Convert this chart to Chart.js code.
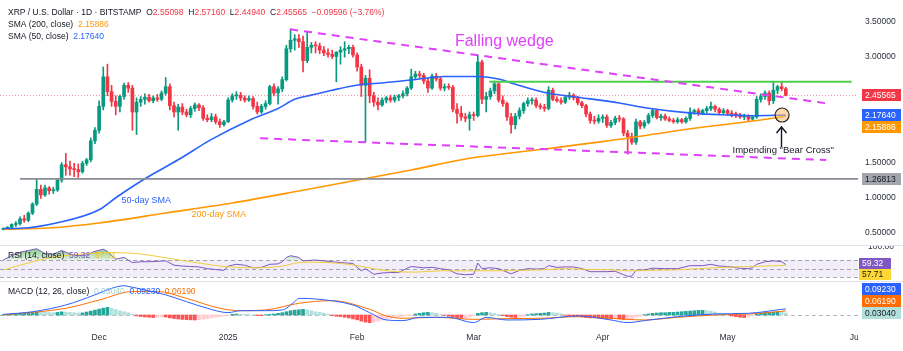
<!DOCTYPE html>
<html>
<head>
<meta charset="utf-8">
<script src="https://cdn.jsdelivr.net/npm/chart.js@4.4.1/dist/chart.umd.min.js"></script>
<style>
html,body{margin:0;padding:0;background:#ffffff;}
#wrap{position:relative;width:903px;height:351px;overflow:hidden;background:#ffffff;}
#wrap canvas{position:absolute;left:0;display:block;}
</style>
</head>
<body>
<div id="wrap">
  <canvas id="cMain" width="903" height="245" style="top:0px;width:903px;height:245px"></canvas>
  <canvas id="cRsi" width="903" height="36" style="top:245px;width:903px;height:36px"></canvas>
  <canvas id="cMacd" width="903" height="70" style="top:281px;width:903px;height:70px"></canvas>
</div>
<script>
// ================= DATA (day 0 = 1 Dec 2024) =================
const firstDay = -23; // 8 Nov 2024
const opens = [
0.55,0.56,0.58,0.62,0.63,0.70,0.68,0.78,0.91,1.12,
1.04,1.14,1.10,1.11,1.25,1.47,1.44,1.41,1.40,1.37,
1.49,1.54,1.81,1.96,2.30,2.72,2.51,2.37,2.30,2.44,
2.60,2.56,2.22,2.36,2.40,2.43,2.38,2.42,2.40,2.49,
2.58,2.31,2.22,2.29,2.22,2.18,2.27,2.32,2.28,2.13,
2.11,2.15,2.08,2.04,2.08,2.39,2.45,2.46,2.42,2.39,
2.41,2.30,2.22,2.30,2.34,2.58,2.49,2.55,2.68,3.12,
3.24,3.26,3.22,2.95,3.14,3.17,3.16,3.10,3.06,3.04,
3.01,3.07,3.10,3.12,3.14,3.03,2.86,2.60,2.70,2.45,
2.36,2.32,2.39,2.42,2.39,2.43,2.45,2.48,2.56,2.72,
2.76,2.74,2.66,2.56,2.73,2.69,2.56,2.58,2.57,2.26,
2.20,2.15,2.13,2.18,2.17,2.93,2.40,2.44,2.52,2.62,
2.39,2.34,2.15,2.04,2.16,2.24,2.34,2.38,2.39,2.31,
2.29,2.27,2.53,2.40,2.38,2.36,2.43,2.46,2.42,2.35,
2.31,2.19,2.10,2.09,2.13,2.15,2.03,2.07,2.13,2.12,
1.92,1.87,1.79,2.08,2.02,2.07,2.17,2.24,2.14,2.16,
2.12,2.10,2.08,2.11,2.08,2.13,2.22,2.24,2.20,2.24,
2.27,2.30,2.26,2.21,2.24,2.20,2.19,2.18,2.15,2.17,
2.12,2.15,2.40,2.44,2.49,2.38,2.53,2.58,2.55098];
const highs = [
0.57,0.59,0.63,0.66,0.73,0.75,0.80,0.93,1.27,1.18,
1.18,1.16,1.15,1.27,1.50,1.63,1.52,1.49,1.48,1.52,
1.56,1.85,2.00,2.38,2.86,2.90,2.60,2.45,2.46,2.63,
2.64,2.60,2.42,2.44,2.48,2.47,2.45,2.47,2.52,2.71,
2.62,2.36,2.33,2.34,2.26,2.30,2.35,2.34,2.31,2.18,
2.20,2.19,2.12,2.10,2.42,2.48,2.51,2.50,2.45,2.45,
2.44,2.36,2.33,2.38,2.60,2.62,2.58,2.72,3.17,3.40,
3.32,3.32,3.30,3.36,3.21,3.22,3.20,3.15,3.12,3.10,
3.08,3.15,3.22,3.17,3.17,3.06,2.90,2.74,2.82,2.50,
2.42,2.42,2.44,2.46,2.46,2.47,2.52,2.58,2.83,2.80,
2.80,2.77,2.70,2.76,2.77,2.72,2.62,2.62,2.60,2.34,
2.30,2.20,2.22,2.22,3.03,2.96,2.50,2.56,2.66,2.65,
2.45,2.36,2.20,2.20,2.28,2.36,2.42,2.42,2.42,2.34,
2.33,2.58,2.56,2.44,2.42,2.46,2.50,2.48,2.44,2.37,
2.33,2.22,2.16,2.18,2.18,2.18,2.10,2.16,2.17,2.14,
1.96,1.92,2.12,2.10,2.10,2.20,2.27,2.26,2.19,2.19,
2.15,2.13,2.14,2.13,2.15,2.28,2.26,2.27,2.26,2.30,
2.36,2.32,2.28,2.27,2.26,2.24,2.22,2.20,2.19,2.18,
2.17,2.44,2.48,2.52,2.52,2.65,2.60,2.65,2.5716];
const lows = [
0.54,0.55,0.57,0.59,0.61,0.65,0.66,0.76,0.89,0.99,
1.02,1.05,1.06,1.09,1.22,1.32,1.32,1.30,1.29,1.35,
1.46,1.51,1.77,1.92,2.25,2.45,2.30,2.18,2.22,2.40,
2.50,1.96,1.90,2.30,2.33,2.36,2.35,2.37,2.38,2.46,
2.25,2.15,1.96,2.18,2.15,2.14,2.23,2.24,2.10,2.08,
2.08,2.05,2.00,2.02,2.07,2.36,2.40,2.38,2.36,2.37,
2.26,2.19,2.20,2.26,2.32,2.45,2.33,2.51,2.66,3.07,
3.10,3.14,2.79,2.92,3.06,3.06,3.05,3.02,3.00,2.98,
2.65,2.90,3.00,3.05,3.00,2.80,2.44,1.80,2.35,2.30,
2.25,2.30,2.35,2.36,2.36,2.38,2.42,2.45,2.54,2.68,
2.70,2.62,2.50,2.54,2.66,2.53,2.52,2.54,2.22,2.06,
2.10,2.08,1.96,2.10,2.15,2.34,2.22,2.40,2.48,2.36,
2.30,2.10,1.92,1.98,2.12,2.20,2.30,2.33,2.28,2.26,
2.23,2.25,2.38,2.36,2.33,2.34,2.40,2.39,2.32,2.28,
2.15,2.06,2.05,2.06,2.07,2.00,2.00,2.04,2.08,1.88,
1.62,1.76,1.76,1.98,1.99,2.05,2.14,2.12,2.10,2.10,
2.08,2.06,2.06,2.06,2.06,2.10,2.19,2.17,2.18,2.21,
2.24,2.22,2.18,2.19,2.17,2.15,2.14,2.13,2.11,2.09,
2.10,2.13,2.36,2.40,2.32,2.34,2.48,2.52,2.4494];
const closes = [
0.56,0.58,0.62,0.63,0.70,0.68,0.78,0.91,1.12,1.04,
1.14,1.10,1.11,1.25,1.47,1.44,1.41,1.40,1.37,1.49,
1.54,1.81,1.96,2.30,2.72,2.51,2.37,2.30,2.44,2.60,
2.56,2.22,2.36,2.40,2.43,2.38,2.42,2.40,2.49,2.58,
2.31,2.22,2.29,2.22,2.18,2.27,2.32,2.28,2.13,2.11,
2.15,2.08,2.04,2.08,2.39,2.45,2.46,2.42,2.39,2.41,
2.30,2.22,2.30,2.34,2.58,2.49,2.55,2.68,3.12,3.24,
3.26,3.22,2.95,3.14,3.17,3.16,3.10,3.06,3.04,3.01,
3.07,3.10,3.12,3.14,3.03,2.86,2.60,2.70,2.45,2.36,
2.32,2.39,2.42,2.39,2.43,2.45,2.48,2.56,2.72,2.76,
2.74,2.66,2.56,2.73,2.69,2.56,2.58,2.57,2.26,2.20,
2.15,2.13,2.18,2.17,2.93,2.40,2.44,2.52,2.62,2.39,
2.34,2.15,2.04,2.16,2.24,2.34,2.38,2.39,2.31,2.29,
2.27,2.53,2.40,2.38,2.36,2.43,2.46,2.42,2.35,2.31,
2.19,2.10,2.09,2.13,2.15,2.03,2.07,2.13,2.12,1.92,
1.87,1.79,2.08,2.02,2.07,2.17,2.24,2.14,2.16,2.12,
2.10,2.08,2.11,2.08,2.13,2.22,2.24,2.20,2.24,2.27,
2.30,2.26,2.21,2.24,2.20,2.19,2.18,2.15,2.17,2.12,
2.15,2.40,2.44,2.49,2.38,2.53,2.58,2.5516,2.45565];
const prevClose = 2.55161;

const sma50Days = [-23,-19,-10,0,4,11,19,27,36,43,47,51,56,63,68,75,83,90,96,99,108,115,125,132,143,151,157,165];
const sma50Vals = [0.563,0.566,0.645,0.83,1.0,1.27,1.54,1.83,2.10,2.27,2.40,2.46,2.53,2.61,2.633,2.675,2.725,2.725,2.69,2.633,2.486,2.43,2.348,2.273,2.20,2.177,2.167,2.1764];
const sma200Days = [-23,-12,0,16,32,48,75,89,105,121,132,143,159,165];
const sma200Vals = [0.552,0.57,0.641,0.783,0.926,1.096,1.395,1.561,1.68,1.798,1.893,1.988,2.106,2.15886];

const wedgeUpperDays = [45.9,174.7], wedgeUpperVals = [3.396,2.344];
const wedgeLowerDays = [38.7,174.7], wedgeLowerVals = [1.846,1.537];
const resistDays = [93.75,180.8], resistLevel = 2.651;
const supportStartDay = -19, supportLevel = 1.26813;

const rsiDays = [-23,-21,-19,-17,-15,-13,-11,-10,-9,-7,-5,-3,-1,1,2,4,6,8,10,12,14,16,18,20,22,24,26,28,30,31,33,35,37,39,41,43,44,45,46,48,49,52,58,61,63,64,66,68,70,72,74,75,78,80,82,84,86,88,90,91,92,94,96,98,99,101,103,105,107,108,110,112,114,116,118,120,122,124,126,127,128,129,131,133,136,139,142,145,147,149,151,154,156,157,158,160,162,163,164,165];
const rsiVals = [70,80,88,92,96,85,83,88,92,84,80,82,90,95,90,72,76,64,66,66,67,68,58,56,55,54,50,48,46,56,60,58,52,53,60,61,66,76,80,76,68,70,64,62,45,50,37,40,41,41,51,55,52,53,50,47,38,36,37,63,50,52,50,42,38,46,50,49,50,57,53,54,54,50,43,43,43,44,36,32,33,46,47,51,50,50,57,57,60,56,55,51,50,52,60,66,68,67,66,59.32];
const rsiMaDays = [-23,-19,-12,-4,4,10,16,22,30,38,44,48,52,58,62,66,70,76,82,88,94,100,106,112,118,124,127,132,138,144,150,156,160,165];
const rsiMaVals = [47,58,75,84,87,84,75,66,55,52,56,64,65,62,57,50,44,42,45,45,45,46,47,50,48,47,45,46,47,50,53,55,56,57.71];
const rsiLevels = [70,50,30];

const macdDays = [-23,-16,-8,-1,3,6,7,11,16,21,26,31,34,40,44,47,48,52,61,65,69,73,77,84,90,93,98,106,115,123,127,131,139,148,156,160,164,165];
const macdVals = [0.01,0.05,0.154,0.31,0.41,0.45,0.44,0.385,0.31,0.205,0.103,0.036,0.066,0.066,0.077,0.205,0.256,0.246,0.154,0.036,-0.077,-0.087,-0.036,-0.036,-0.118,-0.036,-0.077,-0.067,-0.015,-0.077,-0.118,-0.087,-0.026,0.015,0.026,0.051,0.087,0.0923];
const signalDays = [-23,-8,0,8,14,21,29,34,40,48,56,65,69,73,81,90,98,106,115,123,131,139,148,156,165];
const signalVals = [0,0.103,0.23,0.36,0.36,0.256,0.103,0.066,0.077,0.18,0.22,0.087,-0.015,-0.051,-0.036,-0.067,-0.056,-0.051,-0.026,-0.051,-0.077,-0.036,0,0.015,0.0619];
const histVals = [
0.005,0.008,0.012,0.016,0.022,0.025,0.03,
0.036,0.045,0.042,0.04,0.038,
0.035,0.04,0.048,0.044,0.04,0.035,0.03,0.032,
0.045,0.06,0.075,0.09,0.105,0.118,
0.1,0.085,0.065,0.05,0.035,
0.01,
-0.015,-0.025,-0.03,-0.035,-0.04,
-0.035,-0.03,-0.032,-0.045,
-0.055,-0.062,-0.068,-0.072,-0.075,-0.077,-0.072,
-0.065,-0.055,-0.045,-0.035,-0.025,-0.015,-0.005,
0.01,0.015,0.012,0.01,0.008,0.004,
-0.008,-0.01,
0.005,0.01,0.015,0.025,0.035,0.05,0.065,0.075,
0.08,0.087,0.08,
0.065,0.05,0.04,0.03,0.015,
-0.01,-0.02,-0.025,-0.035,-0.045,
-0.06,-0.075,-0.095,-0.11,-0.118,-0.11,
-0.095,-0.08,-0.065,-0.05,-0.04,-0.03,-0.02,
-0.01,-0.005,
0.015,0.025,0.035,0.04,0.035,0.025,
0.01,-0.005,
-0.02,-0.03,-0.04,-0.05,-0.045,-0.035,
-0.01,0.025,0.035,0.04,0.035,0.025,
0.01,-0.01,
-0.025,-0.035,-0.04,-0.03,-0.02,
0.005,0.015,0.02,0.025,0.03,0.04,0.035,0.03,0.02,
-0.005,-0.015,-0.02,-0.025,-0.03,-0.04,-0.045,-0.045,
-0.05,-0.055,-0.055,-0.06,-0.058,-0.062,-0.07,-0.068,-0.055,
-0.035,-0.02,
0.005,0.015,0.025,0.03,0.035,0.035,0.04,0.04,0.045,
0.05,0.055,0.06,0.065,0.07,0.072,0.068,0.06,
0.045,0.03,0.015,0.005,
-0.015,-0.025,-0.035,-0.04,-0.03,
-0.015,0.01,0.025,0.035,0.04,0.043,0.045,0.042,
0.0304];

const priceTicks = [0.5,1.0,1.5,3.0,3.5];
const rsiTicks = [100];
const tickDays = [0,31,62,90,121,151,182];
const tickLabels = ['Dec','2025','Feb','Mar','Apr','May','Jun'];

// ================= STYLE / LAYOUT =================
const FONT = '"Liberation Sans", Arial, sans-serif';
const TXT = '#131722';
const UP = '#089981', DOWN = '#f23645';
const MAGENTA = '#e040fb', GREEN = '#4cd04c';
const X_MIN = -23.81, X_MAX = 182.34;
const Y_MIN = 0.328, Y_MAX = 3.813;
const R_MIN = 21.45, R_MAX = 104.7;
const M_MIN = -0.185, M_MAX = 0.523;
const AXIS_W = 45;

const last = closes.length - 1;
const days = opens.map((_, i) => firstDay + i);
const candleCol = opens.map((o, i) => closes[i] >= o ? UP : DOWN);
const pts = (xs, ys) => xs.map((x, i) => ({x: x, y: ys[i]}));
const histCol = histVals.map((h, i) => {
  const p = i > 0 ? histVals[i - 1] : 0;
  if (h >= 0) return h >= p ? '#26a69a' : '#b2dfdb';
  return h <= p ? '#ff5252' : '#ffcdd2';
});

function fixY(s){ s.width = AXIS_W; s.paddingTop = 0; s.paddingBottom = 0; }
const baseOpts = {
  responsive:false, maintainAspectRatio:false, animation:false, devicePixelRatio:1,
  layout:{padding:0},
  plugins:{legend:{display:false}, tooltip:{enabled:false}}
};
function xHidden(){ return {type:'linear', min:X_MIN, max:X_MAX, offset:false, display:false, grid:{display:false}}; }

function drawRuns(ctx, x, y, list, font){
  ctx.font = font; ctx.textBaseline = 'middle'; ctx.textAlign = 'left';
  for (const r of list){ ctx.fillStyle = r[1]; ctx.fillText(r[0], x, y); x += ctx.measureText(r[0]).width; }
}
function layoutBoxes(items, h, hi, dir){
  const arr = items.slice().sort((a, b) => a.y - b.y);
  if (dir === 'down'){
    for (let i = 1; i < arr.length; i++) arr[i].y = Math.max(arr[i].y, arr[i-1].y + h);
    if (hi !== null && arr[arr.length-1].y > hi){
      arr[arr.length-1].y = hi;
      for (let i = arr.length - 2; i >= 0; i--) arr[i].y = Math.min(arr[i].y, arr[i+1].y - h);
    }
  } else {
    for (let i = arr.length - 2; i >= 0; i--) arr[i].y = Math.min(arr[i].y, arr[i+1].y - h);
  }
  return arr;
}
function drawBoxes(ctx, arr, left, width, bh){
  ctx.font = '8.5px ' + FONT; ctx.textBaseline = 'middle'; ctx.textAlign = 'left';
  for (const b of arr){
    ctx.fillStyle = b.bg; ctx.fillRect(left, Math.round(b.y - bh/2), width, bh);
    ctx.fillStyle = b.fg; ctx.fillText(b.text, left + 3, b.y + 0.5);
  }
}
const MINUS = '\u2212';
const fmtSigned = (v, n) => (v < 0 ? MINUS : '+') + Math.abs(v).toFixed(n);

// ================= MAIN PRICE PANE =================
const ann = {
  wedge: {d:85.5, p:3.219, text:'Falling wedge'},
  sma50: {d:5.4, p:0.958, text:'50-day SMA'},
  sma200: {d:22.2, p:0.755, text:'200-day SMA'},
  bear: {d:152.2, p:1.68, text:'Impending "Bear Cross"'},
  circle: {d:164.1, p:2.177, r:7},
  arrow: {d:163.9, p0:1.722, p1:2.007}
};

const mainOverlay = {
  id:'mainOverlay',
  afterDraw(chart){
    const ctx = chart.ctx, x = chart.scales.x, y = chart.scales.y;
    ctx.save();
    ctx.textBaseline = 'middle'; ctx.textAlign = 'left';
    ctx.font = '16px ' + FONT; ctx.fillStyle = MAGENTA;
    ctx.fillText(ann.wedge.text, x.getPixelForValue(ann.wedge.d), y.getPixelForValue(ann.wedge.p));
    ctx.font = '9px ' + FONT; ctx.fillStyle = '#2962ff';
    ctx.fillText(ann.sma50.text, x.getPixelForValue(ann.sma50.d), y.getPixelForValue(ann.sma50.p));
    ctx.fillStyle = '#ff9800';
    ctx.fillText(ann.sma200.text, x.getPixelForValue(ann.sma200.d), y.getPixelForValue(ann.sma200.p));
    ctx.font = '9.5px ' + FONT; ctx.fillStyle = TXT;
    ctx.fillText(ann.bear.text, x.getPixelForValue(ann.bear.d), y.getPixelForValue(ann.bear.p));
    const cx = x.getPixelForValue(ann.circle.d), cy = y.getPixelForValue(ann.circle.p);
    ctx.beginPath(); ctx.arc(cx, cy, ann.circle.r, 0, Math.PI*2);
    ctx.fillStyle = 'rgba(255,190,110,0.55)'; ctx.fill();
    ctx.lineWidth = 1.2; ctx.strokeStyle = '#2a2a2a'; ctx.stroke();
    const ax = Math.round(x.getPixelForValue(ann.arrow.d)) + 0.5;
    const ay0 = y.getPixelForValue(ann.arrow.p0), ay1 = y.getPixelForValue(ann.arrow.p1);
    ctx.beginPath(); ctx.moveTo(ax, ay0); ctx.lineTo(ax, ay1);
    ctx.moveTo(ax - 5, ay1 + 6); ctx.lineTo(ax, ay1); ctx.lineTo(ax + 5, ay1 + 6);
    ctx.lineWidth = 1.4; ctx.strokeStyle = TXT; ctx.stroke();
    const F = '8.5px ' + FONT, R = '#f23645';
    const chg = closes[last] - prevClose;
    drawRuns(ctx, 8, 13, [
      ['XRP / U.S. Dollar \u00b7 1D \u00b7 BITSTAMP  ', TXT],
      ['O', TXT], [opens[last].toFixed(5) + '  ', R],
      ['H', TXT], [highs[last].toFixed(5) + '  ', R],
      ['L', TXT], [lows[last].toFixed(5) + '  ', R],
      ['C', TXT], [closes[last].toFixed(5) + '  ', R],
      [fmtSigned(chg, 5) + ' (' + fmtSigned(chg / prevClose * 100, 2) + '%)', R]
    ], F);
    drawRuns(ctx, 8, 25, [['SMA (200, close)  ', TXT], [sma200Vals[sma200Vals.length-1].toFixed(5), '#ff9800']], F);
    drawRuns(ctx, 8, 37, [['SMA (50, close)  ', TXT], [sma50Vals[sma50Vals.length-1].toFixed(5), '#2962ff']], F);
    const boxes = layoutBoxes([
      {y:y.getPixelForValue(closes[last]), text:closes[last].toFixed(5), bg:'#f23645', fg:'#ffffff'},
      {y:y.getPixelForValue(sma50Vals[sma50Vals.length-1]), text:sma50Vals[sma50Vals.length-1].toFixed(5), bg:'#2962ff', fg:'#ffffff'},
      {y:y.getPixelForValue(sma200Vals[sma200Vals.length-1]), text:sma200Vals[sma200Vals.length-1].toFixed(5), bg:'#ff9800', fg:'#ffffff'},
      {y:y.getPixelForValue(supportLevel), text:supportLevel.toFixed(5), bg:'#a3a6af', fg:TXT}
    ], 12, 239, 'down');
    drawBoxes(ctx, boxes, 862, 39, 12);
    ctx.restore();
  }
};

new Chart(document.getElementById('cMain'), {
  type:'bar',
  data:{datasets:[
    {type:'line', data:pts(wedgeUpperDays, wedgeUpperVals), borderColor:MAGENTA, borderWidth:2, borderDash:[8,6], pointRadius:0, order:1},
    {type:'line', data:pts(wedgeLowerDays, wedgeLowerVals), borderColor:MAGENTA, borderWidth:2, borderDash:[8,6], pointRadius:0, order:1},
    {type:'line', data:pts(resistDays, [resistLevel, resistLevel]), borderColor:GREEN, borderWidth:2, pointRadius:0, order:1},
    {type:'line', data:pts([supportStartDay, X_MAX], [supportLevel, supportLevel]), borderColor:'#8a8d96', borderWidth:1.6, pointRadius:0, order:1},
    {type:'line', data:pts([X_MIN, X_MAX], [closes[last], closes[last]]), borderColor:'rgba(242,54,69,0.55)', borderWidth:1, borderDash:[1,2], pointRadius:0, order:2},
    {type:'line', data:pts(sma50Days, sma50Vals), borderColor:'#2962ff', borderWidth:1.6, pointRadius:0, cubicInterpolationMode:'monotone', order:3},
    {type:'line', data:pts(sma200Days, sma200Vals), borderColor:'#ff9800', borderWidth:1.6, pointRadius:0, cubicInterpolationMode:'monotone', order:3},
    {type:'bar', data:days.map((d, i) => ({x:d, y:[lows[i], highs[i]]})), backgroundColor:candleCol, barThickness:1, grouped:false, order:10},
    {type:'bar', data:days.map((d, i) => ({x:d, y:[opens[i], closes[i]]})), backgroundColor:candleCol, barThickness:3, minBarLength:1, grouped:false, order:9}
  ]},
  options:Object.assign({}, baseOpts, {
    scales:{
      x:xHidden(),
      y:{type:'linear', position:'right', min:Y_MIN, max:Y_MAX,
         grid:{display:false, drawTicks:false}, border:{display:false},
         ticks:{font:{size:8.5, family:FONT}, color:'#2a2e39', padding:7, callback:v => Number(v).toFixed(5)},
         afterBuildTicks:s => { s.ticks = priceTicks.map(v => ({value:v})); },
         afterFit:fixY}
    }
  }),
  plugins:[mainOverlay]
});

// ================= RSI PANE =================
const rsiCanvas = document.getElementById('cRsi');
const rctx = rsiCanvas.getContext('2d');
const ry = v => (R_MAX - v) / (R_MAX - R_MIN) * 36;
const obGrad = rctx.createLinearGradient(0, ry(100), 0, ry(70));
obGrad.addColorStop(0, 'rgba(76,175,80,0.75)');
obGrad.addColorStop(1, 'rgba(76,175,80,0.15)');

const rsiOverlay = {
  id:'rsiOverlay',
  beforeDatasetsDraw(chart){
    const ctx = chart.ctx, y = chart.scales.y, a = chart.chartArea;
    ctx.save();
    ctx.fillStyle = 'rgba(126,87,194,0.10)';
    const y70 = y.getPixelForValue(rsiLevels[0]), y30 = y.getPixelForValue(rsiLevels[2]);
    ctx.fillRect(a.left, y70, a.right - a.left, y30 - y70);
    ctx.strokeStyle = 'rgba(120,123,134,0.65)'; ctx.lineWidth = 1; ctx.setLineDash([4,3]);
    for (const lv of rsiLevels){
      const yy = Math.round(y.getPixelForValue(lv)) + 0.5;
      ctx.beginPath(); ctx.moveTo(a.left, yy); ctx.lineTo(a.right, yy); ctx.stroke();
    }
    ctx.restore();
  },
  afterDraw(chart){
    const ctx = chart.ctx, y = chart.scales.y;
    ctx.save();
    drawRuns(ctx, 8, 11, [['RSI (14, close)  ', TXT], [rsiVals[rsiVals.length-1].toFixed(2) + '  ', '#7e57c2'], [rsiMaVals[rsiMaVals.length-1].toFixed(2), '#e8c31a']], '8.5px ' + FONT);
    const boxes = layoutBoxes([
      {y:y.getPixelForValue(rsiVals[rsiVals.length-1]), text:rsiVals[rsiVals.length-1].toFixed(2), bg:'#7e57c2', fg:'#ffffff'},
      {y:y.getPixelForValue(rsiMaVals[rsiMaVals.length-1]), text:rsiMaVals[rsiMaVals.length-1].toFixed(2), bg:'#fdd835', fg:TXT}
    ], 11, 29.5, 'down');
    drawBoxes(ctx, boxes, 859, 32, 11);
    ctx.strokeStyle = '#e0e3eb'; ctx.lineWidth = 1;
    ctx.beginPath(); ctx.moveTo(0, 0.5); ctx.lineTo(903, 0.5); ctx.stroke();
    ctx.restore();
  }
};

new Chart(rsiCanvas, {
  type:'line',
  data:{datasets:[
    {data:pts(rsiDays, rsiVals), borderColor:'#7e57c2', borderWidth:1, pointRadius:0, tension:0,
     fill:{target:{value:70}, above:obGrad, below:'rgba(0,0,0,0)'}, order:2},
    {data:pts(rsiMaDays, rsiMaVals), borderColor:'#f2cc3a', borderWidth:1, pointRadius:0, cubicInterpolationMode:'monotone', fill:false, order:1}
  ]},
  options:Object.assign({}, baseOpts, {
    scales:{
      x:xHidden(),
      y:{type:'linear', position:'right', min:R_MIN, max:R_MAX,
         grid:{display:false, drawTicks:false}, border:{display:false},
         ticks:{font:{size:8.5, family:FONT}, color:'#2a2e39', padding:10, callback:v => Number(v).toFixed(2)},
         afterBuildTicks:s => { s.ticks = rsiTicks.map(v => ({value:v})); },
         afterFit:fixY}
    }
  }),
  plugins:[rsiOverlay]
});

// ================= MACD PANE + TIME AXIS =================
const macdOverlay = {
  id:'macdOverlay',
  beforeDatasetsDraw(chart){
    const ctx = chart.ctx, y = chart.scales.y;
    ctx.save();
    ctx.strokeStyle = 'rgba(120,123,134,0.55)'; ctx.lineWidth = 1; ctx.setLineDash([4,3]);
    const yy = Math.round(y.getPixelForValue(0)) + 0.5;
    ctx.beginPath(); ctx.moveTo(0, yy); ctx.lineTo(chart.chartArea.right, yy); ctx.stroke();
    ctx.restore();
  },
  afterDraw(chart){
    const ctx = chart.ctx, y = chart.scales.y, a = chart.chartArea;
    ctx.save();
    const hv = histVals[histVals.length-1], mv = macdVals[macdVals.length-1], sv = signalVals[signalVals.length-1];
    drawRuns(ctx, 8, 11, [['MACD (12, 26, close)  ', TXT], [hv.toFixed(5) + '  ', '#9fd6d0'], [mv.toFixed(5) + '  ', '#2962ff'], [sv.toFixed(5), '#ff6d00']], '8.5px ' + FONT);
    const boxes = layoutBoxes([
      {y:y.getPixelForValue(mv), text:mv.toFixed(5), bg:'#2962ff', fg:'#ffffff'},
      {y:y.getPixelForValue(sv), text:sv.toFixed(5), bg:'#ff6d00', fg:'#ffffff'},
      {y:y.getPixelForValue(hv), text:hv.toFixed(5), bg:'#b2dfdb', fg:TXT}
    ], 12, null, 'up');
    drawBoxes(ctx, boxes, 862, 39, 12);
    ctx.fillStyle = '#ffffff'; ctx.fillRect(a.right, a.bottom, 903 - a.right, 70 - a.bottom);
    ctx.strokeStyle = '#e0e3eb'; ctx.lineWidth = 1;
    ctx.beginPath(); ctx.moveTo(0, 0.5); ctx.lineTo(903, 0.5); ctx.stroke();
    ctx.restore();
  }
};

new Chart(document.getElementById('cMacd'), {
  type:'bar',
  data:{datasets:[
    {type:'line', data:pts(macdDays, macdVals), borderColor:'#2962ff', borderWidth:1, pointRadius:0, cubicInterpolationMode:'monotone', order:1},
    {type:'line', data:pts(signalDays, signalVals), borderColor:'#ff6d00', borderWidth:1, pointRadius:0, cubicInterpolationMode:'monotone', order:1},
    {type:'bar', data:days.map((d, i) => ({x:d, y:histVals[i]})), backgroundColor:histCol, barThickness:3, grouped:false, order:5}
  ]},
  options:Object.assign({}, baseOpts, {
    scales:{
      x:{type:'linear', min:X_MIN, max:X_MAX, offset:false, position:'bottom',
         grid:{display:false, drawTicks:false}, border:{display:false},
         ticks:{autoSkip:false, maxRotation:0, font:{size:8.5, family:FONT}, color:'#2a2e39', padding:6,
                callback:(v, i) => tickLabels[i]},
         afterBuildTicks:s => { s.ticks = tickDays.map(v => ({value:v})); },
         afterFit:s => { s.height = 24; s.paddingLeft = 0; s.paddingRight = 0; }},
      y:{type:'linear', position:'right', min:M_MIN, max:M_MAX,
         grid:{display:false, drawTicks:false}, border:{display:false},
         ticks:{display:false}, afterFit:fixY}
    }
  }),
  plugins:[macdOverlay]
});
</script>
</body>
</html>
